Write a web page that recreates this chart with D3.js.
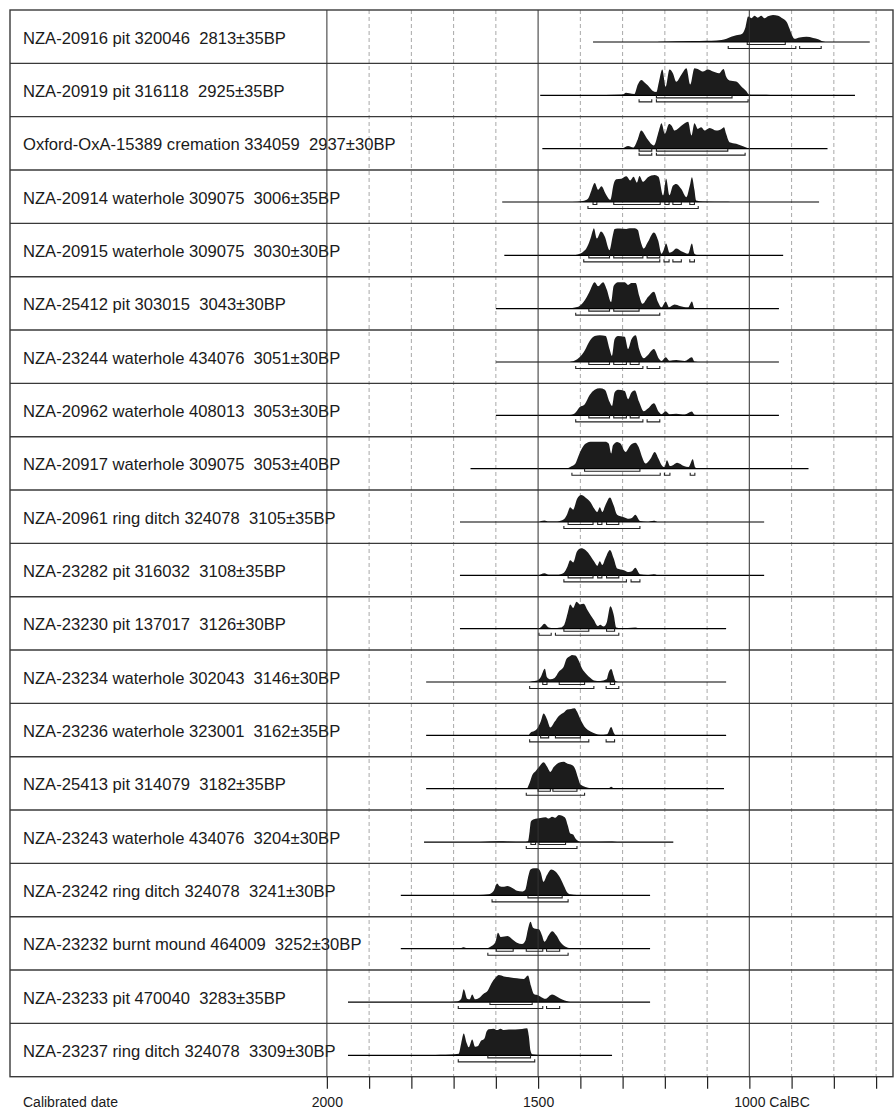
<!DOCTYPE html>
<html>
<head>
<meta charset="utf-8">
<script src="https://cdn.jsdelivr.net/npm/d3@7"></script>
<style>
body { margin: 0; background: #fff; }
svg text { font-family: "Liberation Sans", Arial, sans-serif; fill: #1a1a1a; }
</style>
</head>
<body>
<svg id="chart" width="894" height="1109"></svg>
<script>
"use strict";
// sample labels, top to bottom
var labIds = ["NZA-20916", "NZA-20919", "Oxford-OxA-15389", "NZA-20914", "NZA-20915",
  "NZA-25412", "NZA-23244", "NZA-20962", "NZA-20917", "NZA-20961", "NZA-23282",
  "NZA-23230", "NZA-23234", "NZA-23236", "NZA-25413", "NZA-23243", "NZA-23242",
  "NZA-23232", "NZA-23233", "NZA-23237"];
var contexts = ["pit 320046", "pit 316118", "cremation 334059", "waterhole 309075",
  "waterhole 309075", "pit 303015", "waterhole 434076", "waterhole 408013",
  "waterhole 309075", "ring ditch 324078", "pit 316032", "pit 137017",
  "waterhole 302043", "waterhole 323001", "pit 314079", "waterhole 434076",
  "ring ditch 324078", "burnt mound 464009", "pit 470040", "ring ditch 324078"];
var bpAge = [2813, 2925, 2937, 3006, 3030, 3043, 3051, 3053, 3053, 3105, 3108, 3126,
  3146, 3162, 3182, 3204, 3241, 3252, 3283, 3309];
var bpErr = [35, 35, 30, 35, 30, 30, 30, 30, 40, 35, 35, 30, 30, 35, 35, 30, 30, 30, 35, 30];

// extent of the thin base line under each distribution (cal BC)
var lineFrom = [1370, 1495, 1490, 1585, 1580, 1600, 1600, 1600, 1660, 1685, 1685, 1685,
  1765, 1765, 1765, 1770, 1825, 1825, 1950, 1950];
var lineTo = [715, 750, 815, 835, 920, 930, 930, 930, 860, 965, 965, 1055,
  1055, 1055, 1060, 1180, 1235, 1235, 1235, 1325];

// probability curves: [cal BC, % of peak]
var densities = [
  [[1225,0],[1212,1],[1133,4],[1102,5],[1078,6],[1054,12],[1043,19],[1031,25],[1017,31],[1009,56],[1003,94],[995,88],[988,97],[980,90],[972,97],[964,88],[956,95],[944,100],[932,97],[924,90],[912,75],[905,50],[899,25],[893,12],[881,17],[865,19],[849,15],[837,10],[829,4],[820,0]],
  [[1380,0],[1340,1],[1300,3],[1292,10],[1284,8],[1272,5],[1264,40],[1256,57],[1248,48],[1240,36],[1230,18],[1220,12],[1214,50],[1206,96],[1198,32],[1189,96],[1181,82],[1173,50],[1161,76],[1149,100],[1140,40],[1130,100],[1118,94],[1110,88],[1098,96],[1086,88],[1072,82],[1061,98],[1055,70],[1047,55],[1031,51],[1019,33],[1007,15],[1001,3],[990,2],[960,2],[940,0]],
  [[1380,0],[1340,1],[1300,2],[1287,10],[1275,4],[1264,35],[1256,67],[1242,37],[1226,12],[1214,67],[1208,94],[1200,55],[1190,91],[1184,85],[1177,67],[1161,85],[1145,100],[1137,49],[1130,94],[1122,73],[1114,79],[1106,67],[1094,77],[1078,67],[1066,73],[1060,79],[1055,55],[1047,24],[1031,18],[1015,9],[1003,2],[995,0]],
  [[1420,0],[1394,4],[1382,12],[1374,42],[1366,70],[1358,45],[1350,58],[1340,30],[1329,8],[1321,68],[1315,84],[1303,86],[1291,95],[1282,80],[1274,94],[1266,72],[1260,96],[1252,75],[1240,92],[1224,100],[1215,94],[1204,25],[1197,86],[1189,25],[1181,60],[1173,67],[1161,48],[1149,18],[1141,60],[1136,92],[1130,45],[1126,6],[1110,2],[1055,1],[1045,0]],
  [[1417,0],[1406,3],[1394,12],[1386,25],[1376,62],[1370,94],[1368,100],[1361,62],[1351,88],[1342,69],[1331,19],[1323,75],[1319,98],[1307,99],[1291,98],[1283,100],[1271,100],[1264,94],[1258,56],[1250,25],[1240,50],[1226,85],[1216,56],[1208,6],[1203,19],[1197,44],[1189,10],[1181,15],[1173,25],[1161,15],[1145,6],[1136,44],[1130,6],[1122,0]],
  [[1425,0],[1413,4],[1402,10],[1390,30],[1379,61],[1366,98],[1358,83],[1346,98],[1338,73],[1327,24],[1321,85],[1311,98],[1295,98],[1287,88],[1279,95],[1269,95],[1261,49],[1253,18],[1240,43],[1226,63],[1216,24],[1208,5],[1198,27],[1190,5],[1177,15],[1165,10],[1145,5],[1136,27],[1130,2],[1122,0]],
  [[1429,0],[1413,6],[1402,18],[1390,42],[1378,78],[1366,96],[1354,99],[1340,96],[1331,48],[1325,22],[1319,84],[1311,96],[1295,94],[1287,48],[1279,84],[1269,99],[1261,48],[1250,14],[1240,26],[1226,48],[1214,12],[1208,4],[1198,18],[1189,5],[1173,7],[1153,4],[1136,18],[1130,2],[1122,0]],
  [[1429,0],[1413,8],[1402,30],[1390,40],[1378,75],[1366,95],[1354,100],[1342,95],[1331,50],[1325,35],[1319,85],[1311,95],[1295,90],[1287,60],[1279,85],[1271,92],[1261,50],[1250,15],[1240,25],[1226,45],[1214,12],[1208,4],[1198,15],[1189,4],[1173,6],[1153,3],[1136,14],[1130,2],[1122,0]],
  [[1431,0],[1424,6],[1412,18],[1404,49],[1392,86],[1384,96],[1376,100],[1364,100],[1341,100],[1333,93],[1327,56],[1323,86],[1313,99],[1305,93],[1293,62],[1282,86],[1270,96],[1262,80],[1254,43],[1246,19],[1234,37],[1224,62],[1215,37],[1207,12],[1201,6],[1195,31],[1188,10],[1179,15],[1171,22],[1155,10],[1144,6],[1134,35],[1128,4],[1120,0]],
  [[1498,0],[1493,4],[1485,6],[1475,2],[1455,2],[1439,10],[1431,30],[1424,55],[1417,46],[1408,85],[1398,100],[1388,91],[1376,73],[1367,49],[1360,37],[1354,55],[1348,37],[1341,61],[1330,91],[1321,61],[1313,27],[1297,18],[1285,12],[1278,15],[1270,27],[1259,4],[1242,1],[1226,5],[1218,0]],
  [[1498,0],[1493,4],[1485,8],[1475,2],[1455,2],[1439,10],[1431,31],[1424,56],[1417,48],[1408,88],[1398,100],[1388,94],[1376,72],[1367,50],[1360,35],[1354,52],[1348,38],[1341,62],[1330,94],[1321,62],[1313,25],[1297,19],[1285,12],[1278,15],[1270,28],[1259,4],[1242,1],[1226,4],[1218,0]],
  [[1498,0],[1493,6],[1485,18],[1475,4],[1463,1],[1447,4],[1438,15],[1430,58],[1424,90],[1417,77],[1409,100],[1401,90],[1392,92],[1384,71],[1376,51],[1368,32],[1359,10],[1353,15],[1345,8],[1337,26],[1329,83],[1321,51],[1315,4],[1305,1],[1270,4],[1262,0]],
  [[1522,0],[1514,3],[1502,6],[1494,18],[1484,49],[1479,18],[1471,10],[1461,15],[1451,38],[1439,58],[1433,85],[1425,95],[1420,100],[1412,98],[1404,80],[1396,50],[1386,30],[1376,15],[1368,6],[1353,4],[1338,10],[1333,35],[1327,48],[1321,22],[1317,4],[1309,0]],
  [[1522,0],[1518,10],[1510,15],[1502,25],[1494,50],[1487,81],[1479,60],[1471,29],[1461,50],[1451,72],[1439,85],[1431,96],[1422,98],[1414,100],[1408,88],[1400,60],[1388,28],[1376,14],[1364,6],[1353,2],[1337,4],[1327,31],[1321,10],[1317,0]],
  [[1526,0],[1520,22],[1514,50],[1506,65],[1498,80],[1487,98],[1479,82],[1471,62],[1463,80],[1451,96],[1439,100],[1430,92],[1420,88],[1412,72],[1406,42],[1400,16],[1388,6],[1376,2],[1360,1],[1333,1],[1327,7],[1321,1],[1313,0]],
  [[1636,0],[1593,3],[1573,2],[1534,1],[1524,3],[1520,40],[1517,76],[1510,84],[1502,87],[1494,89],[1482,92],[1475,87],[1467,94],[1459,90],[1451,100],[1443,97],[1435,87],[1430,62],[1424,32],[1417,28],[1412,14],[1406,5],[1400,1],[1325,2],[1313,0]],
  [[1684,0],[1640,1],[1617,4],[1605,17],[1597,44],[1591,34],[1583,32],[1573,35],[1562,28],[1550,17],[1538,14],[1530,22],[1524,65],[1518,96],[1510,100],[1502,100],[1494,86],[1487,50],[1479,75],[1469,96],[1459,88],[1447,62],[1439,36],[1431,11],[1424,4],[1408,1],[1400,0]],
  [[1684,0],[1676,5],[1668,1],[1621,2],[1613,7],[1601,24],[1595,59],[1588,43],[1580,45],[1572,47],[1562,36],[1550,22],[1538,17],[1530,30],[1524,72],[1518,100],[1512,78],[1506,74],[1498,72],[1491,50],[1485,26],[1475,50],[1467,65],[1457,50],[1447,24],[1435,7],[1424,2],[1408,0]],
  [[1707,0],[1692,2],[1682,12],[1676,47],[1668,12],[1662,10],[1656,28],[1649,10],[1640,15],[1629,31],[1619,43],[1611,68],[1601,90],[1593,100],[1581,95],[1565,91],[1550,88],[1534,85],[1524,98],[1517,60],[1510,30],[1502,26],[1494,20],[1483,12],[1467,28],[1455,20],[1443,9],[1431,3],[1424,0]],
  [[1755,0],[1731,2],[1707,3],[1688,6],[1682,45],[1676,81],[1669,45],[1664,30],[1656,59],[1649,32],[1642,35],[1636,52],[1627,62],[1622,88],[1617,97],[1605,99],[1597,94],[1589,99],[1581,94],[1569,96],[1554,96],[1538,98],[1526,100],[1522,72],[1518,18],[1514,4],[1494,1],[1459,1],[1447,0]]
];

// 68.2% and 95.4% ranges (cal BC)
var sigma1 = [
  [[1005,915]], [[1220,1041]], [[1261,1231],[1220,1051]],
  [[1370,1361],[1321,1211],[1200,1190],[1181,1161],[1141,1130]],
  [[1380,1331],[1321,1252],[1242,1212]], [[1380,1331],[1321,1261]],
  [[1380,1331],[1321,1291],[1282,1261]], [[1380,1331],[1321,1291],[1282,1261]],
  [[1390,1259]], [[1429,1370],[1359,1349],[1338,1309]], [[1429,1370],[1359,1349],[1338,1309]],
  [[1439,1380],[1338,1319]], [[1489,1479],[1450,1390],[1329,1319]],
  [[1494,1475],[1459,1400]], [[1500,1471],[1465,1408]], [[1517,1506],[1498,1435]],
  [[1524,1443]], [[1599,1559],[1528,1489],[1480,1449]], [[1614,1514]], [[1619,1518]]
];
var sigma2 = [
  [[1050,890],[881,830]], [[1261,1231],[1220,1003]], [[1261,1231],[1220,1010]],
  [[1382,1121]], [[1392,1212],[1202,1190],[1181,1161],[1141,1130]], [[1411,1212]],
  [[1411,1252],[1242,1212]], [[1411,1252],[1242,1212]],
  [[1420,1211],[1201,1188],[1140,1129]], [[1439,1259]], [[1439,1291],[1280,1259]],
  [[1498,1469],[1459,1309]], [[1520,1368],[1339,1309]], [[1520,1380],[1339,1319]],
  [[1528,1390]], [[1528,1408]], [[1609,1429]], [[1619,1429]],
  [[1689,1489],[1480,1449]], [[1689,1508]]
];

var gridYears = d3.range(2000, 699, -100);

var svg = d3.select("#chart"),
    box = {top: 10, left: 10, right: 893, bottom: 1076.7};

var x = d3.scaleLinear().domain([2750, 660]).range([box.left, box.right]);
var rows = d3.scaleBand().domain(d3.range(labIds.length)).range([box.top, box.bottom]);
var h = d3.scaleLinear().domain([0, 100]).range([0, 27]);

// dashed century lines
svg.append("g")
  .selectAll("line")
  .data(gridYears.filter(d => d % 500 != 0))
  .join("line")
    .attr("x1", d => x(d)).attr("x2", d => x(d))
    .attr("y1", box.top).attr("y2", box.bottom)
    .attr("stroke", "#a8a8a8")
    .attr("stroke-dasharray", "4,3");

// row separators
svg.append("g")
  .selectAll("line")
  .data(d3.range(1, labIds.length))
  .join("line")
    .attr("x1", box.left).attr("x2", box.right)
    .attr("y1", d => rows(d)).attr("y2", d => rows(d))
    .attr("stroke", "#3a3a3a")
    .attr("stroke-width", 1.4);

var area = d3.area()
  .x(d => x(d[0]))
  .y0(0)
  .y1(d => -h(d[1]))
  .curve(d3.curveMonotoneX);

function bracket(y) {
  return r => "M" + x(r[0]) + "," + (y - 2.5) + "V" + y + "H" + x(r[1]) + "V" + (y - 2.5);
}

var row = svg.append("g")
  .selectAll("g")
  .data(d3.range(labIds.length))
  .join("g")
    .attr("transform", i => "translate(0," + (rows(i) + 32) + ")");

row.append("path")
  .attr("d", i => area(densities[i]))
  .attr("fill", "#1c1c1c");

row.append("line")
  .attr("x1", i => x(lineFrom[i])).attr("x2", i => x(lineTo[i]))
  .attr("stroke", "#000")
  .attr("stroke-width", 1.2);

row.each(function(i) {
  var g = d3.select(this);
  g.selectAll("path.s1").data(sigma1[i]).join("path")
    .attr("class", "s1")
    .attr("d", bracket(2.5))
    .attr("fill", "none").attr("stroke", "#222").attr("stroke-width", 1.1);
  g.selectAll("path.s2").data(sigma2[i]).join("path")
    .attr("class", "s2")
    .attr("d", bracket(6.5))
    .attr("fill", "none").attr("stroke", "#222").attr("stroke-width", 1.1);
});

row.append("text")
  .attr("x", 23)
  .attr("y", -32 + rows.bandwidth() / 2 + 7)
  .attr("font-size", 16.6)
  .style("white-space", "pre")
  .text(i => labIds[i] + " " + contexts[i] + "  " + bpAge[i] + "\u00b1" + bpErr[i] + "BP");

// solid lines at 500 year steps
svg.append("g")
  .selectAll("line")
  .data(gridYears.filter(d => d % 500 == 0))
  .join("line")
    .attr("x1", d => x(d)).attr("x2", d => x(d))
    .attr("y1", box.top).attr("y2", box.bottom)
    .attr("stroke", "#333")
    .attr("stroke-width", 1.2)
    .attr("stroke-opacity", 0.85);

svg.append("rect")
  .attr("x", box.left).attr("y", box.top)
  .attr("width", box.right - box.left).attr("height", box.bottom - box.top)
  .attr("fill", "none")
  .attr("stroke", "#3a3a3a")
  .attr("stroke-width", 1.4);

// bottom axis
var axisG = svg.append("g")
  .attr("transform", "translate(0," + box.bottom + ")")
  .call(d3.axisBottom(x)
    .tickValues(gridYears)
    .tickSize(12)
    .tickFormat(d => d == 1000 ? "1000 CalBC" : (d % 500 == 0 ? d : "")));

axisG.select(".domain").remove();
axisG.attr("font-family", null).attr("font-size", 14);
axisG.selectAll(".tick line").attr("stroke", "#222").attr("stroke-width", 1.2);
axisG.selectAll(".tick text").attr("y", 30).attr("dy", 0).attr("fill", "#1a1a1a");
axisG.selectAll(".tick text")
  .filter(d => d == 1000)
  .attr("text-anchor", "start")
  .attr("x", function() { return -this.getSubStringLength(0, 4) / 2; });

svg.append("text")
  .attr("x", 23)
  .attr("y", box.bottom + 30)
  .attr("font-size", 14)
  .text("Calibrated date");
</script>
</body>
</html>
